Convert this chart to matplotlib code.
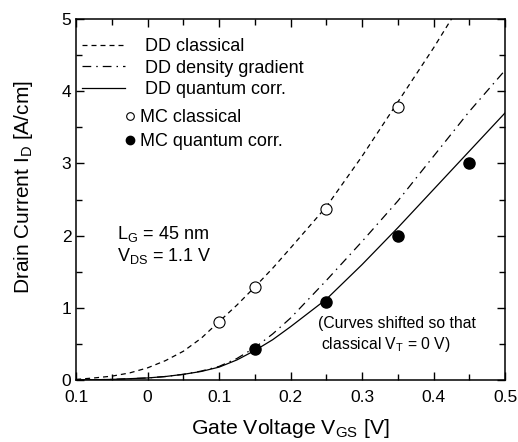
import numpy as np
import matplotlib.pyplot as plt
from matplotlib.lines import Line2D
from matplotlib.ticker import MultipleLocator

plt.rcParams['font.family'] = ['Liberation Sans', 'DejaVu Sans']

# DD simulation curves
v_curve = [-0.1, -0.075, -0.05, -0.025, 0.0, 0.025, 0.05, 0.075, 0.1, 0.125,
           0.15, 0.175, 0.2, 0.25, 0.3, 0.35, 0.4, 0.45, 0.5]
dd_classical = [0.01, 0.03, 0.055, 0.10, 0.17, 0.27, 0.40, 0.58, 0.81, 1.04,
                1.29, 1.55, 1.83, 2.40, 3.10, 3.85, 4.60, 5.40, 6.20]
dd_density = [0.0, 0.005, 0.01, 0.02, 0.03, 0.05, 0.08, 0.125, 0.19, 0.30,
              0.45, 0.64, 0.86, 1.38, 1.92, 2.48, 3.10, 3.72, 4.29]
dd_quantum = [0.0, 0.005, 0.01, 0.02, 0.03, 0.05, 0.08, 0.12, 0.18, 0.28,
              0.41, 0.56, 0.74, 1.12, 1.60, 2.11, 2.64, 3.17, 3.70]

# Monte Carlo points
v_mc_cl = [0.1, 0.15, 0.25, 0.35]
mc_classical = [0.81, 1.29, 2.37, 3.78]
v_mc_q = [0.15, 0.25, 0.35, 0.45]
mc_quantum = [0.43, 1.08, 2.00, 3.00]

x_ticks = [-0.1, 0.0, 0.1, 0.2, 0.3, 0.4, 0.5]
x_ticklabels = ['0.1', '0', '0.1', '0.2', '0.3', '0.4', '0.5']

fig = plt.figure(figsize=(5.18, 4.42), dpi=100)
ax = fig.add_axes([0.147, 0.140, 0.828, 0.817])

lw = 0.9
dash_cl = (4, 3.2)
dash_dg = (7, 4, 1.2, 4)
ax.plot(v_curve, dd_classical, color='k', lw=lw, dashes=dash_cl)
ax.plot(v_curve, dd_density, color='k', lw=lw, dashes=dash_dg)
ax.plot(v_curve, dd_quantum, color='k', lw=lw)
ax.plot(v_mc_cl, mc_classical, 'o', ms=8, mfc='white', mec='k', mew=0.8)
ax.plot(v_mc_q, mc_quantum, 'o', ms=8, mfc='k', mec='k')

ax.set_xlim(-0.1, 0.5)
ax.set_ylim(0, 5)
ax.set_xticks(x_ticks)
ax.set_xticklabels(x_ticklabels)
ax.set_yticks([0, 1, 2, 3, 4, 5])
ax.xaxis.set_minor_locator(MultipleLocator(0.05))
ax.yaxis.set_minor_locator(MultipleLocator(0.5))
ax.tick_params(which='both', direction='in', top=True, right=True, labelsize=12.5)
ax.tick_params(which='major', length=6, width=1)
ax.tick_params(which='minor', length=4, width=1)
ax.tick_params(axis='x', pad=7)
for s in ax.spines.values():
    s.set_linewidth(1.1)

ax.set_xlabel('Gate Voltage V$_\\mathregular{GS}$ [V]', fontsize=15.3)
ax.xaxis.set_label_coords(0.5, -0.103)
ax.xaxis.label.set_va('top')
ax.set_ylabel('Drain Current I$_\\mathregular{D}$ [A/cm]', fontsize=15,
              family=['Liberation Sans Narrow', 'Liberation Sans', 'DejaVu Sans'])
ax.yaxis.set_label_coords(-0.097, 0.535)

# legends: lines first, then markers
line_handles = [
    Line2D([], [], color='k', lw=lw, dashes=dash_cl),
    Line2D([], [], color='k', lw=lw, dashes=dash_dg),
    Line2D([], [], color='k', lw=lw),
]
leg1 = ax.legend(line_handles, ['DD classical', 'DD density gradient', 'DD quantum corr.'],
                 loc='upper left', bbox_to_anchor=(0.014, 0.947), frameon=False,
                 borderpad=0, borderaxespad=0,
                 fontsize=13, handlelength=2.4, handletextpad=1.1, labelspacing=0.25)
ax.add_artist(leg1)
mk_handles = [
    Line2D([], [], ls='none', marker='o', ms=5.5, mfc='white', mec='k', mew=0.8),
    Line2D([], [], ls='none', marker='o', ms=6, mfc='k', mec='k'),
]
ax.legend(mk_handles, ['MC classical', 'MC quantum corr.'],
          loc='upper left', bbox_to_anchor=(0.115, 0.751), frameon=False,
          borderpad=0, borderaxespad=0,
          fontsize=13, handlelength=0.5, handletextpad=0.3, labelspacing=0.39)

ax.text(-0.043, 2.02, 'L$_\\mathregular{G}$ = 45 nm', fontsize=13, va='center')
ax.text(-0.043, 1.72, 'V$_\\mathregular{DS}$ = 1.1 V', fontsize=13, va='center')
ax.text(0.239, 0.79, '(Curves shifted so that', fontsize=11.3, va='center')
ax.text(0.242, 0.50, 'classical V$_\\mathregular{T}$ = 0 V)', fontsize=11.3, va='center')

fig.savefig('out.png', dpi=100)
